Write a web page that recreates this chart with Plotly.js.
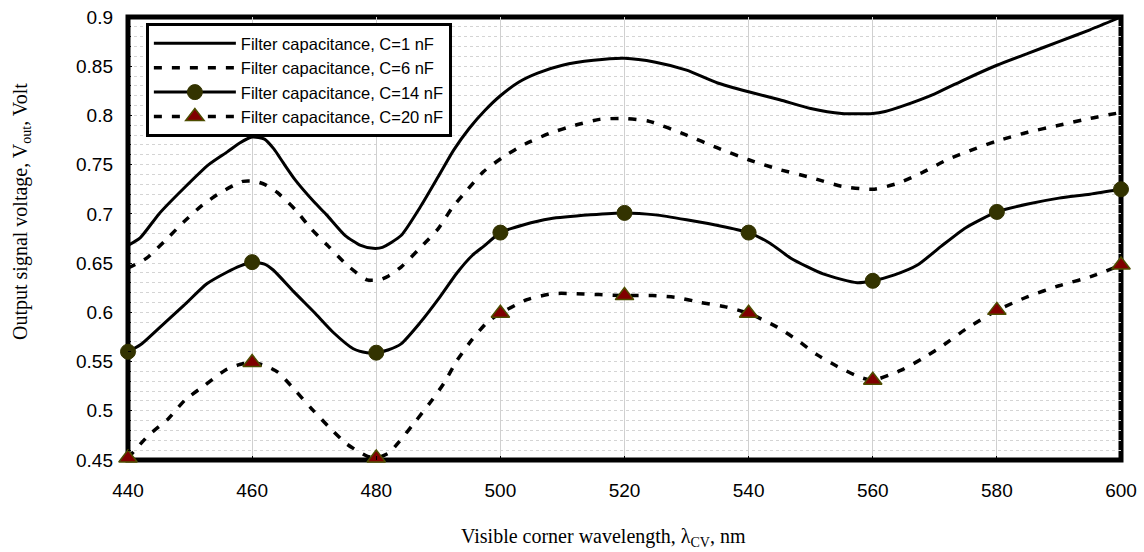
<!DOCTYPE html>
<html>
<head>
<meta charset="utf-8">
<script src="https://cdn.plot.ly/plotly-3.0.1.min.js"></script>
<style>html,body{margin:0;padding:0;background:#fff;}#chart{width:1144px;height:552px;}</style>
</head>
<body>
<div id="chart"></div>
<script>
// ---- data ----
const seriesNames = ['Filter capacitance, C=1 nF', 'Filter capacitance, C=6 nF', 'Filter capacitance, C=14 nF', 'Filter capacitance, C=20 nF'];

const s1x = [440,442,445,449,453,456,458,460,462,463.5,465,467,470,472,475,477.5,479.5,481,484,487,490,492.5,495,497.5,500,503,506,510,515,520,525,530,535,540,545,550,555,560,562,565,570,575,580,585,590,595,600];
const s1y = [0.668,0.676,0.700,0.726,0.750,0.763,0.772,0.778,0.776,0.766,0.752,0.734,0.712,0.699,0.678,0.668,0.665,0.666,0.678,0.706,0.738,0.765,0.787,0.805,0.820,0.834,0.843,0.851,0.856,0.858,0.854,0.846,0.833,0.824,0.816,0.807,0.802,0.802,0.804,0.810,0.822,0.837,0.851,0.863,0.875,0.887,0.900];

const s2x = [440,443,446,449,452,455,458.5,460.5,462,464,467,469.5,472.3,475.3,478.5,480.5,482,484,487,490,492.2,494.6,497.3,500.5,504,508,512,516,520,524,530,535,540,545,550,555,560,564,568,572,576,580,585,590,595,600];
const s2y = [0.645,0.655,0.673,0.692,0.709,0.722,0.733,0.733,0.730,0.722,0.704,0.685,0.667,0.648,0.633,0.633,0.637,0.646,0.665,0.685,0.706,0.724,0.743,0.758,0.771,0.782,0.790,0.796,0.797,0.794,0.780,0.767,0.755,0.745,0.737,0.728,0.725,0.731,0.742,0.755,0.765,0.774,0.783,0.790,0.797,0.803];

const s3x = [440,442,445,449,452.7,456,458,460,462,463.4,466.7,470,473,476.3,478.5,480,482,484,487,490.3,493,495.5,497.3,500,503.8,508,514.5,520,525,530,536,540,543.5,546.8,552,557.5,560,563.5,567.2,571,575,580,585,590,595,600];
const s3y = [0.560,0.567,0.584,0.607,0.629,0.641,0.647,0.651,0.649,0.643,0.621,0.600,0.580,0.563,0.559,0.559,0.562,0.568,0.589,0.616,0.640,0.658,0.667,0.681,0.689,0.695,0.699,0.701,0.699,0.694,0.687,0.681,0.670,0.655,0.639,0.630,0.632,0.638,0.648,0.667,0.686,0.702,0.710,0.716,0.720,0.725];

const s4x = [440,443.3,446.5,449.2,452.4,455.6,458,460,462,464.2,466.9,469.6,472.3,475.3,478.5,480,482,483.6,486.3,489,490.9,493,495.4,497.9,500,504.3,508.5,512.3,516,520,524.5,528.5,532.3,536,540,544.6,547.8,551,554.3,558,560,564.5,568,571,575,580,585,590,595,600];
const s4y = [0.452,0.475,0.492,0.511,0.526,0.541,0.547,0.549,0.546,0.539,0.521,0.502,0.484,0.466,0.454,0.452,0.457,0.468,0.489,0.511,0.528,0.551,0.572,0.590,0.599,0.613,0.619,0.619,0.618,0.617,0.617,0.615,0.610,0.606,0.599,0.585,0.572,0.557,0.545,0.534,0.531,0.541,0.553,0.565,0.583,0.602,0.616,0.627,0.636,0.648];

const xTickVals = [440,460,480,500,520,540,560,580,600];
const yTickVals = [0.45,0.5,0.55,0.6,0.65,0.7,0.75,0.8,0.85,0.9];
const yTickText = ['0.45','0.5','0.55','0.6','0.65','0.7','0.75','0.8','0.85','0.9'];

const xTitle = 'Visible corner wavelength, λ<sub>CV</sub>, nm';
const yTitle = 'Output signal voltage, V<sub>out</sub>, Volt';

// ---- markers only at the 20 nm sample points ----
const isMark = x => Math.abs(x % 20) < 1e-9;
const clear = 'rgba(0,0,0,0)';

const traces = [
  {x: s1x, y: s1y, name: seriesNames[0], mode: 'lines',
   line: {color: '#000', width: 3, shape: 'spline', smoothing: 0.6}},
  {x: s2x, y: s2y, name: seriesNames[1], mode: 'lines',
   line: {color: '#000', width: 3.5, dash: '8px,10px', shape: 'spline', smoothing: 0.6}},
  {x: s3x, y: s3y, name: seriesNames[2], mode: 'lines+markers', cliponaxis: false,
   line: {color: '#000', width: 3, shape: 'spline', smoothing: 0.6},
   marker: {symbol: 'circle', size: 15,
            color: s3x.map(x => isMark(x) ? '#333300' : clear),
            line: {width: 1, color: s3x.map(x => isMark(x) ? '#333300' : clear)}}},
  {x: s4x, y: s4y, name: seriesNames[3], mode: 'lines+markers', cliponaxis: false,
   line: {color: '#000', width: 3.5, dash: '8px,10px', shape: 'spline', smoothing: 0.6},
   marker: {symbol: 'triangle-up', size: 16,
            color: s4x.map(x => isMark(x) ? '#800000' : clear),
            line: {width: 1.5, color: s4x.map(x => isMark(x) ? '#4d4d00' : clear)}}}
];

const tickFont = {family: 'Liberation Sans, Arial, sans-serif', size: 19, color: '#000'};

const layout = {
  width: 1144, height: 552,
  margin: {l: 128, r: 23, t: 17, b: 92},
  paper_bgcolor: '#fff', plot_bgcolor: '#fff',
  font: {family: 'Liberation Sans, Arial, sans-serif', size: 18, color: '#000'},
  showlegend: true,
  xaxis: {
    range: [440, 600], tickmode: 'array', tickvals: xTickVals,
    showgrid: true, gridcolor: '#d0d0d0', gridwidth: 1,
    zeroline: false, showline: false,
    ticks: 'inside', ticklen: 4, tickcolor: '#000', tickwidth: 1,
    ticklabelstandoff: 17,
    tickfont: tickFont
  },
  yaxis: {
    range: [0.45, 0.9], tickmode: 'array', tickvals: yTickVals, ticktext: yTickText,
    showgrid: true, gridcolor: '#d4d4d4', gridwidth: 1, griddash: 'dot',
    minor: {dtick: 0.01, tick0: 0.45, showgrid: true, gridcolor: '#d4d4d4', griddash: 'dot',
            ticks: 'inside', ticklen: 3, tickcolor: '#000'},
    zeroline: false, showline: false,
    ticks: 'inside', ticklen: 4, tickcolor: '#000',
    ticklabelstandoff: 14,
    tickfont: tickFont
  },
  legend: {
    x: 0.018, y: 0.9865, xanchor: 'left', yanchor: 'top',
    bgcolor: '#fff', bordercolor: '#000', borderwidth: 3,
    font: {family: 'Liberation Sans, Arial, sans-serif', size: 16.5, color: '#000'},
    itemwidth: 82, tracegroupgap: 0
  },
  shapes: [
    {type: 'rect', xref: 'paper', yref: 'paper', x0: 0, x1: 1, y0: 0, y1: 1,
     line: {color: '#000', width: 5}, layer: 'between'}
  ],
  annotations: [
    {text: xTitle, xref: 'paper', yref: 'paper', x: 0.479, y: -0.174,
     xanchor: 'center', yanchor: 'middle', showarrow: false,
     font: {family: 'Liberation Serif, Times New Roman, serif', size: 20, color: '#000'}},
    {text: yTitle, xref: 'paper', yref: 'paper', x: -0.1078, y: 0.562, textangle: -90,
     xanchor: 'center', yanchor: 'middle', showarrow: false,
     font: {family: 'Liberation Serif, Times New Roman, serif', size: 20, color: '#000'}}
  ]
};

Plotly.newPlot('chart', traces, layout, {displayModeBar: false, staticPlot: true});
</script>
</body>
</html>
